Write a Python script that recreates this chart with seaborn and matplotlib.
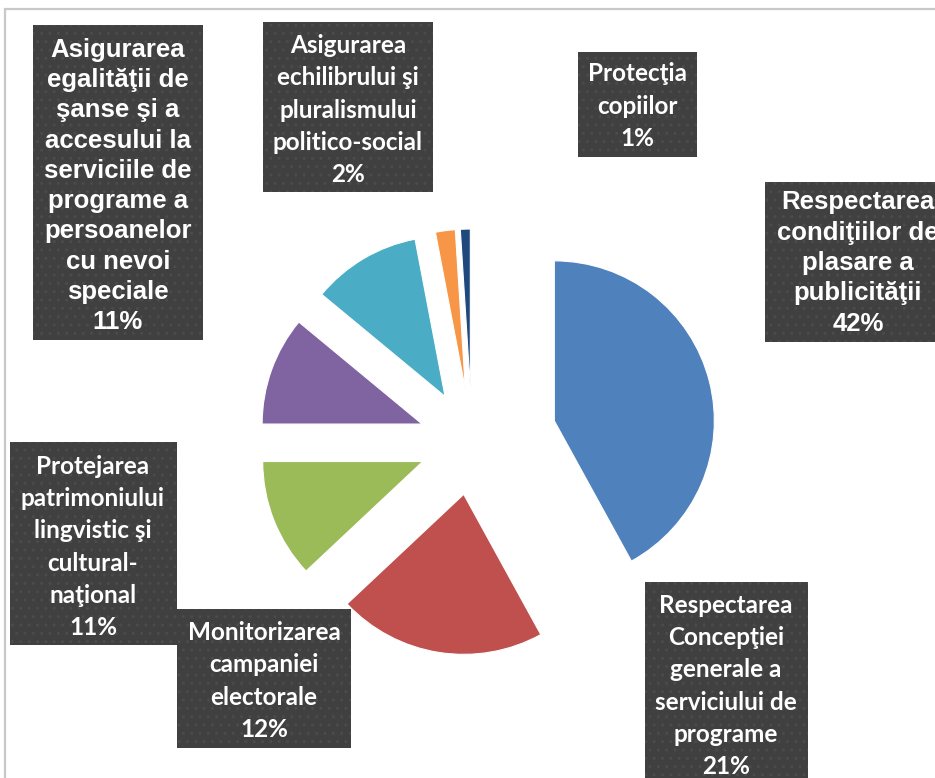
import matplotlib
matplotlib.use("Agg")
import matplotlib.pyplot as plt
from matplotlib.patches import Rectangle
import seaborn as sns

# slice data, clockwise from 12 o'clock
categories = [
    "Respectarea\ncondiţiilor de\nplasare a\npublicităţii",
    "Respectarea\nConcepţiei\ngenerale a\nserviciului de\nprograme",
    "Monitorizarea\ncampaniei\nelectorale",
    "Protejarea\npatrimoniului\nlingvistic şi\ncultural-\nnaţional",
    "Asigurarea\negalităţii de\nşanse şi a\naccesului la\nserviciile de\nprograme a\npersoanelor\ncu nevoi\nspeciale",
    "Asigurarea\nechilibrului şi\npluralismului\npolitico-social",
    "Protecţia\ncopiilor",
]
shares = [42, 21, 12, 11, 11, 2, 1]
colors = ["#4F81BD", "#C0504D", "#9BBB59", "#8064A2", "#4BACC6", "#F79646", "#1F497D"]

W, H = 935, 778
# label boxes in pixels: left, top, right, bottom (from top-left of image)
boxes = [
    (765, 182, 960, 342),
    (645, 582, 808, 800),
    (177, 609, 351, 748),
    (10, 442, 177, 645),
    (33, 25, 203, 340),
    (263, 22, 433, 192),
    (578, 52, 697, 157),
]
text_centers = [(858, 263), (726, 686), (264, 681), (93, 547), (118, 186), (348, 110), (637, 106)]
fonts = ["Liberation Sans", "Lato", "Lato", "Lato", "Liberation Sans", "Lato", "Lato"]

sns.set_theme(style="white")

fig = plt.figure(figsize=(W / 100, H / 100), dpi=100)
ax = fig.add_axes([0, 0, 1, 1])

explode = [85, 53, 53, 53, 53, 53, 53]
ax.pie(shares, colors=colors, startangle=90, counterclock=False,
       center=(472, H - 442), radius=160, explode=explode,
       wedgeprops=dict(edgecolor="white", linewidth=0.8))

# outer chart frame (only top and left visible in the crop)
ax.add_patch(Rectangle((5, -20), W + 40, H - 9 + 20, fill=False,
                       edgecolor="#c8c8c8", linewidth=1.6, clip_on=False))

for name, val, (l, t, r, b), (cx, cy), fam in zip(categories, shares, boxes, text_centers, fonts):
    ax.add_patch(Rectangle((l, H - b), r - l, b - t, facecolor="#404040",
                           edgecolor="#4b4b4b", hatch="..", linewidth=0))
    if fam == "Liberation Sans":
        size, spacing = 18.5, 1.33
    else:
        size, spacing = 17.5, 1.48
    ax.text(cx, H - cy, f"{name}\n{val}%", ha="center", va="center",
            multialignment="center", color="white", fontsize=size,
            fontweight="bold", family=fam, linespacing=spacing)

ax.set_xlim(0, W)
ax.set_ylim(0, H)
ax.set_axis_off()

fig.savefig("out.png", dpi=100)
